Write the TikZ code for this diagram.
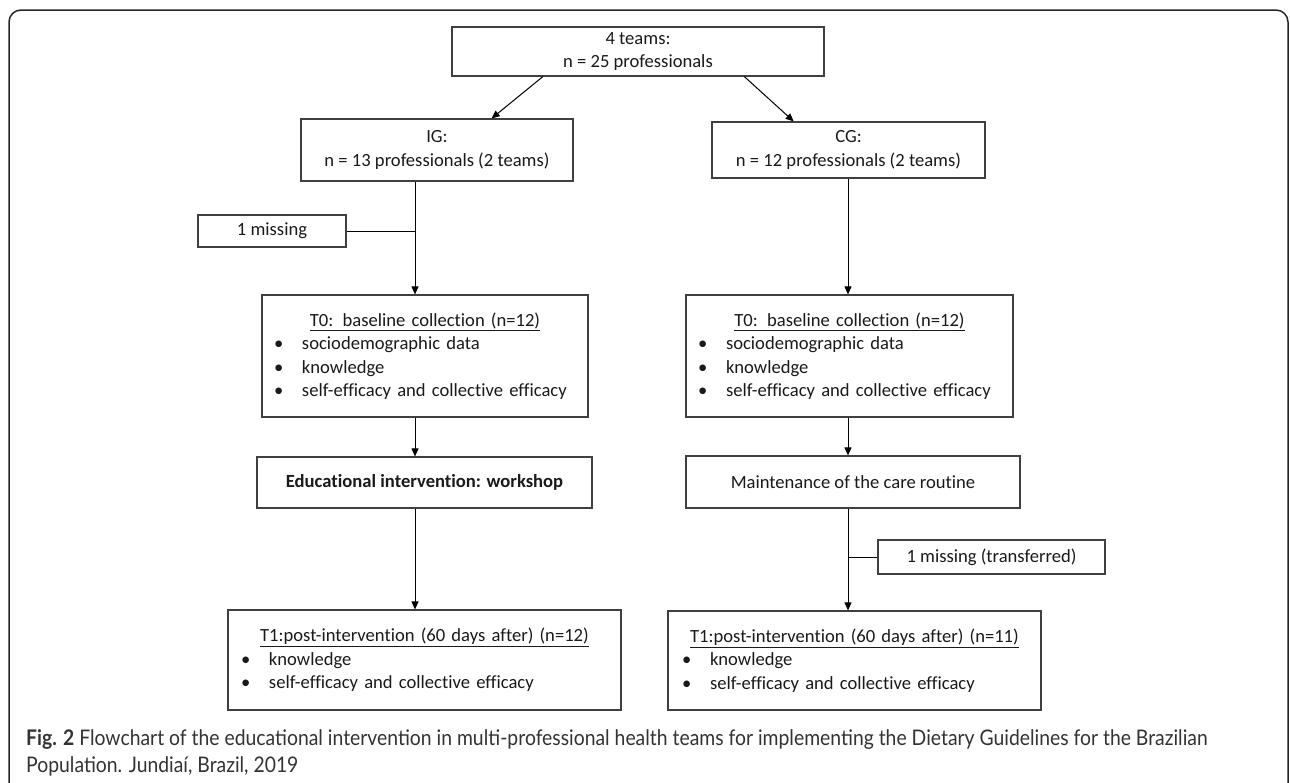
\documentclass[tikz,border=0pt]{standalone}
\usepackage{fontspec}
\setmainfont{Carlito}[Ligatures={NoCommon}]
\newfontfamily\capfont[FakeStretch=0.9]{Lato}
\usetikzlibrary{arrows.meta,calc}
\definecolor{boxline}{HTML}{404040}
\definecolor{txt}{HTML}{1A1A1A}
\definecolor{captxt}{HTML}{333333}
\newcommand{\bul}[1]{\makebox[28pt][l]{•}#1}
\begin{document}
\begin{tikzpicture}[x=1pt,y=-1pt,
  box/.style={draw=boxline, line width=1.2pt, inner sep=0pt, text=txt,
    font=\fontsize{18.6}{23.5}\selectfont, align=center},
  listbox/.style={box, align=left},
  arr/.style={draw=black, line width=1pt, -{Triangle[length=8pt,width=7pt]}},
  ln/.style={draw=black, line width=1pt}]
\useasboundingbox (0,0) rectangle (1290,782);
\begin{scope}
\clip (0,0) rectangle (1290,782);
\draw[line width=1.5pt, rounded corners=12pt, draw=black!85] (9,10) rectangle (1288,800);
\end{scope}

\node[box, minimum width=372, minimum height=49] (top) at (638,51.5) {4 teams:\\n = 25 professionals};
\node[box, minimum width=272, minimum height=62] (IG) at (437,150) {IG:\\n = 13 professionals (2 teams)};
\node[box, minimum width=273, minimum height=56] (CG) at (848.5,150) {CG:\\n = 12 professionals (2 teams)};
\node[box, minimum width=148, minimum height=32] (miss1) at (272,231) {1 missing};

\node[listbox, minimum width=326, minimum height=122, text width=302] (T0a) at (425,356)
  {{\centering\underline{T0: baseline collection (n=12)}\par}
   \bul{sociodemographic data}\\ \bul{knowledge}\\ \bul{self-efficacy and collective efficacy}};
\node[listbox, minimum width=327, minimum height=122, text width=303] (T0b) at (849.5,356)
  {{\centering\underline{T0: baseline collection (n=12)}\par}
   \bul{sociodemographic data}\\ \bul{knowledge}\\ \bul{self-efficacy and collective efficacy}};

\node[box, minimum width=335, minimum height=51] (Edu) at (424.5,482.5) {\textbf{Educational intervention: workshop}};
\node[box, minimum width=334, minimum height=52] (Maint) at (853,482) {Maintenance of the care routine};
\node[box, minimum width=227, minimum height=34] (miss2) at (991.5,557) {1 missing (transferred)};

\node[listbox, minimum width=393, minimum height=100, text width=367] (T1a) at (424.5,660)
  {{\centering\underline{T1:post-intervention (60 days after) (n=12)}\par}
   \bul{knowledge}\\ \bul{self-efficacy and collective efficacy}};
\node[listbox, minimum width=373, minimum height=99, text width=345] (T1b) at (854.5,660.5)
  {{\centering\underline{T1:post-intervention (60 days after) (n=11)}\par}
   \bul{knowledge}\\ \bul{self-efficacy and collective efficacy}};

\node[anchor=base west, inner sep=0pt, text=captxt, align=left,
  font=\capfont\fontsize{21.5}{27}\selectfont] (cap) at (26,772)
  {\textbf{Fig. 2} Flowchart of the educational intervention in multi-professional health teams for implementing the Dietary Guidelines for the Brazilian\\Population. Jundiaí, Brazil, 2019};

\coordinate (colL) at (415,0);
\coordinate (colR) at (848,0);
\draw[arr] ($(top.south west)!0.245!(top.south east)$) -- ($(IG.north west)!0.70!(IG.north east)$);
\draw[arr] ($(top.south west)!0.785!(top.south east)$) -- ($(CG.north west)!0.30!(CG.north east)$);
\draw[arr] (IG.south -| colL) -- (T0a.north -| colL);
\draw[ln] (miss1.east) -- (miss1.east -| colL);
\draw[arr] (T0a.south -| colL) -- (Edu.north -| colL);
\draw[arr] (Edu.south -| colL) -- (T1a.north -| colL);
\draw[arr] (CG.south -| colR) -- (T0b.north -| colR);
\draw[arr] (T0b.south -| colR) -- (Maint.north -| colR);
\draw[arr] (Maint.south -| colR) -- (T1b.north -| colR);
\draw[ln] (miss2.west) -- (miss2.west -| colR);
\end{tikzpicture}
\end{document}
